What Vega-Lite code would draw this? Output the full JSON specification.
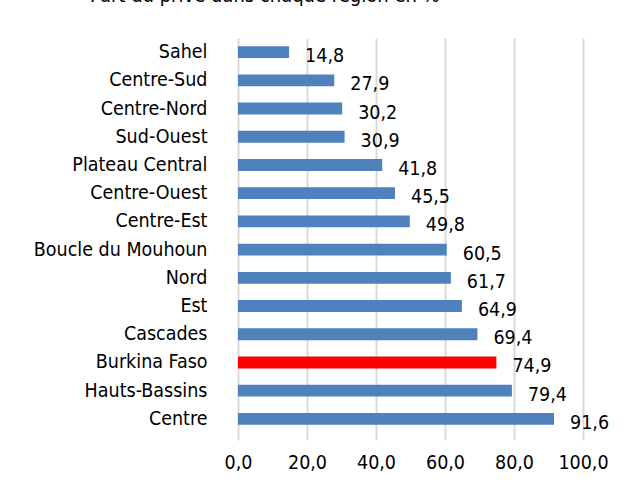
{
  "$schema": "https://vega.github.io/schema/vega-lite/v6.json",
  "autosize": "none",
  "width": 345,
  "height": 395,
  "padding": {"left": 238, "top": 38, "right": 54, "bottom": 54},
  "background": "white",
  "title": {
    "text": "Part du privé dans chaque région en %",
    "anchor": "start",
    "frame": "group",
    "dx": -148,
    "offset": 32,
    "fontSize": 20,
    "font": "DejaVu Sans Condensed",
    "fontWeight": "normal",
    "color": "#000000"
  },
  "config": {
    "view": {"stroke": null},
    "locale": {"number": {"decimal": ",", "thousands": " ", "grouping": [3], "currency": ["", " €"]}},
    "font": "DejaVu Sans Condensed"
  },
  "data": {
    "values": [
      {"region": "Sahel", "value": 14.8},
      {"region": "Centre-Sud", "value": 27.9},
      {"region": "Centre-Nord", "value": 30.2},
      {"region": "Sud-Ouest", "value": 30.9},
      {"region": "Plateau Central", "value": 41.8},
      {"region": "Centre-Ouest", "value": 45.5},
      {"region": "Centre-Est", "value": 49.8},
      {"region": "Boucle du Mouhoun", "value": 60.5},
      {"region": "Nord", "value": 61.7},
      {"region": "Est", "value": 64.9},
      {"region": "Cascades", "value": 69.4},
      {"region": "Burkina Faso", "value": 74.9},
      {"region": "Hauts-Bassins", "value": 79.4},
      {"region": "Centre", "value": 91.6}
    ]
  },
  "encoding": {
    "y": {
      "field": "region",
      "type": "nominal",
      "sort": null,
      "scale": {"paddingInner": 0.58, "paddingOuter": 0.29},
      "axis": {
        "title": null,
        "domain": false,
        "ticks": false,
        "labelPadding": 31,
        "labelFontSize": 19.5,
        "labelColor": "#000000",
        "labelFont": "DejaVu Sans Condensed"
      }
    },
    "x": {
      "field": "value",
      "type": "quantitative",
      "scale": {"domain": [0, 100]},
      "axis": {
        "title": null,
        "values": [0, 20, 40, 60, 80, 100],
        "format": ".1f",
        "domain": false,
        "ticks": true,
        "tickSize": 7,
        "tickColor": "#d9d9d9",
        "tickWidth": 2,
        "grid": true,
        "gridColor": "#d9d9d9",
        "gridWidth": 2,
        "labelFlush": false,
        "labelOverlap": false,
        "labelPadding": 13,
        "labelFontSize": 19.5,
        "labelColor": "#000000",
        "labelFont": "DejaVu Sans Condensed"
      }
    }
  },
  "layer": [
    {
      "mark": {"type": "bar"},
      "encoding": {
        "color": {
          "condition": {"test": "datum.region === 'Burkina Faso'", "value": "#FF0000"},
          "value": "#4F81BD"
        }
      }
    },
    {
      "mark": {"type": "text", "align": "left", "dx": 16, "dy": 4, "fontSize": 19.5, "color": "#000000", "font": "DejaVu Sans Condensed"},
      "encoding": {
        "text": {"field": "value", "type": "quantitative", "format": ".1f"}
      }
    }
  ]
}
